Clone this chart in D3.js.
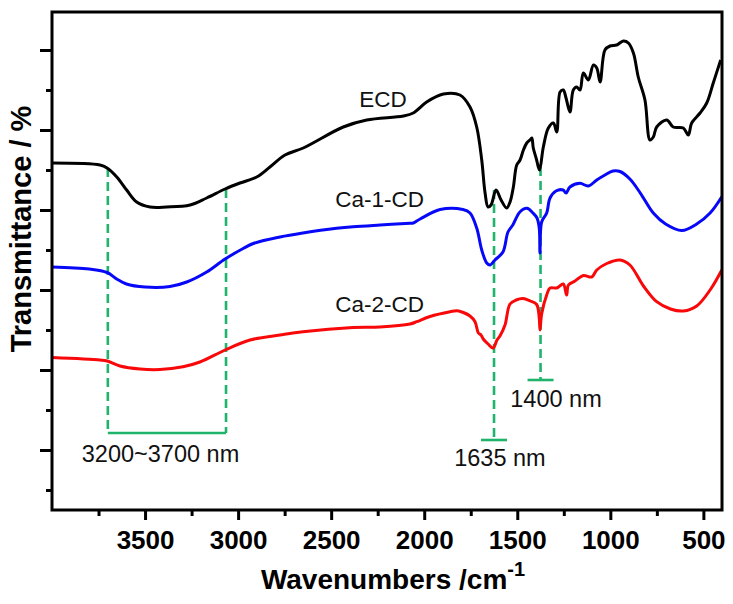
<!DOCTYPE html>
<html>
<head>
<meta charset="utf-8">
<script src="https://cdn.jsdelivr.net/npm/d3@7"></script>
<style>
	body { margin: 0; background: #fff; }
	svg { display: block; font-family: "Liberation Sans", Arial, Helvetica, sans-serif; }
</style>
</head>
<body>
<svg width="733" height="604"></svg>
<script>
const width = 733, height = 604;
const margin = { top: 12, right: 11, bottom: 94, left: 52 };
const svg = d3.select("svg");

// spectra (wavenumber cm-1, transmittance a.u.)
const ecdWave = [4000,3742,3704,3652,3599,3545,3473,3384,3258,3169,3070,2990,2900,2829,2748,2650,2435,2309,2112,2059,1987,1897,1808,1754,1718,1691,1673,1657,1641,1614,1587,1557,1539,1521,1503,1485,1467,1449,1432,1422,1414,1396,1387,1380,1360,1333,1306,1288,1270,1253,1238,1217,1199,1181,1163,1145,1118,1091,1073,1055,1029,1002,966,930,903,876,850,814,787,769,751,697,662,608,581,563,518,482,447,407];
const ecdT = [347,345,342,333,320,308,303,303,305,312,321,327,333,343,355,362,383,390,394,397,408,416,415,403,383,350,317,303,305,320,310,302,308,323,345,350,360,367,370,372,362,350,343,340,363,382,387,378,418,420,412,398,420,423,420,437,430,445,442,428,460,464,465,469,467,457,433,410,370,373,383,390,383,382,375,387,397,407,427,450];

const ca1Wave = [4000,3800,3704,3652,3600,3500,3366,3276,3169,3070,2973,2919,2775,2652,2471,2382,2237,2076,2059,2022,1915,1792,1754,1718,1691,1664,1646,1620,1577,1550,1524,1486,1448,1416,1394,1382,1378,1369,1342,1324,1292,1254,1238,1217,1163,1118,1073,1029,986,948,895,838,768,703,616,536,464,401];
const ca1T = [243,241,237.5,231,226,223,223.5,228,238,251,261.5,266.5,273,277,281.7,283.3,285,286.7,287,291,300.5,300.5,297,282,260,247,245,250,258,278,285,298,301.7,297,292,282,257,288,297,312,319,320,317,323,326.7,324,330,335,339,338.5,331,316.7,296.7,286,279.5,286,297,313.3];

const ca2Wave = [4000,3742,3704,3635,3527,3420,3296,3205,3070,2936,2775,2652,2383,2238,2076,2040,1969,1861,1824,1790,1754,1727,1709,1695,1683,1657,1630,1609,1593,1566,1539,1506,1469,1431,1396,1382,1378,1369,1342,1324,1288,1253,1235,1225,1190,1145,1100,1073,1019,948,895,822,751,677,608,536,464,401];
const ca2T = [152.5,150,149,144,141,140.5,143.3,148,160,170,175,178.3,182.5,183,186,188.3,193.5,198.3,199.3,197.5,194,188.3,177,175,171,166,162,170,174,185,206,210,211.5,209,205.5,192,180,196,215,222,222,226,215,225,229,234.5,233,240,246.5,250,245,224,208.3,201,199,204,220,240];

const seriesNames = ["ECD", "Ca-1-CD", "Ca-2-CD"];
const seriesColors = ["#000000", "#0808f8", "#f80808"];

// axis ticks
const xMajorTicks = [3500, 3000, 2500, 2000, 1500, 1000, 500];
const xMinorTicks = [3750, 3250, 2750, 2250, 1750, 1250, 750];
const yMajorTicks = [60, 140, 220, 300, 380, 460];
const yMinorTicks = [20, 100, 180, 260, 340, 420];

// band markers: wavenumber, top of dashed line, bottom of dashed line
const bandWave = [3700, 3065, 1625, 1375];
const bandTop = [342, 321, 320, 343];
const bandBottom = [77, 77, 70, 130];
const bandLabels = ["3200~3700 nm", "1635 nm", "1400 nm"];

const x = d3.scaleLinear()
	.domain([4000, 400])
	.range([margin.left, width - margin.right]);
const y = d3.scaleLinear()
	.domain([0, 498])
	.range([height - margin.bottom, margin.top]);

const series = [
	{ name: seriesNames[0], color: seriesColors[0], pts: ecdWave.map((w, i) => [w, ecdT[i]]) },
	{ name: seriesNames[1], color: seriesColors[1], pts: ca1Wave.map((w, i) => [w, ca1T[i]]) },
	{ name: seriesNames[2], color: seriesColors[2], pts: ca2Wave.map((w, i) => [w, ca2T[i]]) }
];

const line = d3.line()
	.x(d => x(d[0]))
	.y(d => y(d[1]))
	.curve(d3.curveCatmullRom.alpha(0.5));

const green = "#1fb36b";

// 緑の破線（吸収帯）
const g = svg.append("g");
g.selectAll(".band")
	.data(bandWave)
	.enter()
	.append("line")
	.attr("class", "band")
	.attr("x1", d => x(d))
	.attr("x2", d => x(d))
	.attr("y1", (d, i) => y(bandTop[i]))
	.attr("y2", (d, i) => y(bandBottom[i]))
	.attr("stroke", green)
	.attr("stroke-width", 2.6)
	.attr("stroke-dasharray", "9,5");

// brackets
g.append("line")
	.attr("x1", x(bandWave[0])).attr("x2", x(bandWave[1]))
	.attr("y1", y(bandBottom[0])).attr("y2", y(bandBottom[0]))
	.attr("stroke", green).attr("stroke-width", 2.6);
[2, 3].forEach(i => {
	g.append("line")
		.attr("x1", x(bandWave[i]) - 13).attr("x2", x(bandWave[i]) + 13)
		.attr("y1", y(bandBottom[i])).attr("y2", y(bandBottom[i]))
		.attr("stroke", green).attr("stroke-width", 2.6);
});

// spectra
g.selectAll(".spec")
	.data(series)
	.enter()
	.append("path")
	.attr("class", "spec")
	.attr("fill", "none")
	.attr("stroke", d => d.color)
	.attr("stroke-width", 3)
	.attr("stroke-linejoin", "round")
	.attr("d", d => line(d.pts));

// series labels
const labelPos = [[2221, 403.5], [2240, 303.5], [2240, 198.5]];
g.selectAll(".slabel")
	.data(series)
	.enter()
	.append("text")
	.attr("class", "slabel")
	.attr("x", (d, i) => x(labelPos[i][0]))
	.attr("y", (d, i) => y(labelPos[i][1]))
	.attr("text-anchor", "middle")
	.attr("font-size", 22.5)
	.attr("fill", "#111")
	.text(d => d.name);

// band labels
const bandLabelPos = [[3417, 48], [1593, 44], [1292, 103.5]];
g.selectAll(".blabel")
	.data(bandLabels)
	.enter()
	.append("text")
	.attr("class", "blabel")
	.attr("x", (d, i) => x(bandLabelPos[i][0]))
	.attr("y", (d, i) => y(bandLabelPos[i][1]))
	.attr("text-anchor", "middle")
	.attr("font-size", 23.5)
	.attr("fill", "#111")
	.text(d => d);

// axes
const axisG = svg.append("g");
const xAxis = axisG.append("g")
	.attr("transform", `translate(0,${height - margin.bottom})`)
	.call(d3.axisBottom(x).tickValues(xMajorTicks).tickSize(10).tickSizeOuter(0).tickPadding(11).tickFormat(d3.format("d")));
axisG.append("g")
	.attr("transform", `translate(0,${height - margin.bottom})`)
	.call(d3.axisBottom(x).tickValues(xMinorTicks).tickSize(6).tickSizeOuter(0).tickFormat(""));
axisG.append("g")
	.attr("transform", `translate(${margin.left},0)`)
	.call(d3.axisLeft(y).tickValues(yMajorTicks).tickSize(12).tickSizeOuter(0).tickFormat(""));
axisG.append("g")
	.attr("transform", `translate(${margin.left},0)`)
	.call(d3.axisLeft(y).tickValues(yMinorTicks).tickSize(6).tickSizeOuter(0).tickFormat(""));

axisG.selectAll(".domain").remove();
axisG.selectAll(".tick line").attr("stroke", "#000").attr("stroke-width", 3);
xAxis.selectAll(".tick text")
	.attr("font-size", 26)
	.attr("font-weight", "bold")
	.attr("font-family", "\"Liberation Sans\", Arial, sans-serif")
	.attr("fill", "#000");

// frame
svg.append("rect")
	.attr("x", margin.left)
	.attr("y", margin.top)
	.attr("width", width - margin.left - margin.right)
	.attr("height", height - margin.top - margin.bottom)
	.attr("fill", "none")
	.attr("stroke", "#000")
	.attr("stroke-width", 3);

// axis titles
const xt = svg.append("text")
	.attr("x", 393)
	.attr("y", 589)
	.attr("text-anchor", "middle")
	.attr("font-size", 28)
	.attr("font-weight", "bold");
xt.append("tspan").text("Wavenumbers /cm");
xt.append("tspan").attr("font-size", 20).attr("dy", -13).text("-1");

svg.append("text")
	.attr("transform", "translate(31,229) rotate(-90)")
	.attr("text-anchor", "middle")
	.attr("font-size", 29)
	.attr("font-weight", "bold")
	.text("Transmittance / %");
</script>
</body>
</html>
